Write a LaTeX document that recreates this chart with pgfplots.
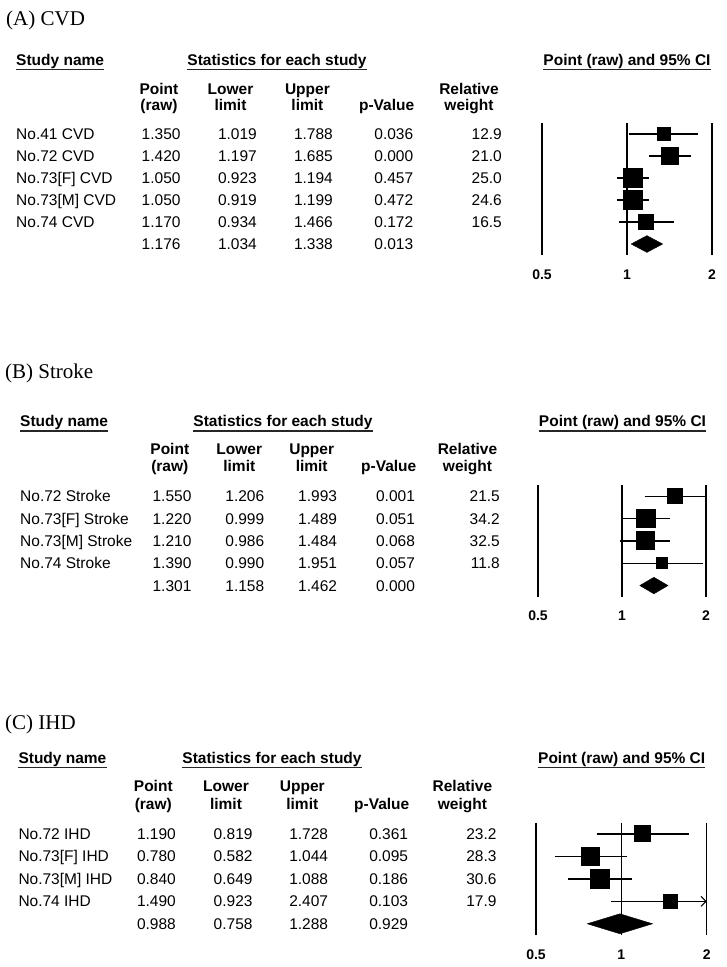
\documentclass[border=0pt]{standalone}
\usepackage{pgfplots}
\pgfplotsset{compat=1.18}
\usepackage{fontspec}
\setmainfont{Liberation Sans}
\newfontfamily\serif{Liberation Serif}
\usetikzlibrary{arrows.meta}

\tikzset{
  tx/.style={inner sep=0pt, font=\fontsize{15.5}{18}\selectfont},
  hd/.style={inner sep=0pt, font=\fontsize{15.5}{18}\selectfont\bfseries},
  ttl/.style={inner sep=0pt, anchor=base west, font=\serif\fontsize{21}{24}\selectfont},
}

% underlined bold heading
\newcommand\ul[4][base]{%
  \node[hd, anchor=#1] (u) at (#2,-#3) {#4};
  \draw[line width=1.3pt, black!85] ([yshift=-4.5pt]u.base west) -- ([yshift=-4.5pt]u.base east);}
% two-line column heading
\newcommand\hdr[5]{%
  \node[hd, anchor=base] at (#1,-#2) {#4};
  \node[hd, anchor=base] at (#1,-#3) {#5};}
% column positions: name (left), point, lower, upper, p, weight (right edges)
\newcommand\setcols[6]{\def\cN{#1}\def\cP{#2}\def\cL{#3}\def\cU{#4}\def\cV{#5}\def\cW{#6}}
\newcommand\trow[7]{%
  \node[tx, anchor=base west] at (\cN,-#1) {#2};
  \node[tx, anchor=base east] at (\cP,-#1) {#3};
  \node[tx, anchor=base east] at (\cL,-#1) {#4};
  \node[tx, anchor=base east] at (\cU,-#1) {#5};
  \node[tx, anchor=base east] at (\cV,-#1) {#6};
  \node[tx, anchor=base east] at (\cW,-#1) {#7};}
% one study in the forest plot: row, point, lower, upper, half side of the box (from its weight)
\newcommand\frow[5]{%
  \addplot[black, line width=1.3pt] coordinates {(#3,#1) (#4,#1)};
  \addplot[only marks, mark=square*, mark size=#5pt,
    mark options={fill=black, draw=black, line width=0pt}] coordinates {(#2,#1)};}
% pooled estimate: row, point, lower, upper, half height
\newcommand\pooled[5]{%
  \addplot[fill=black, draw=black] coordinates
    {(#3,#1) (#2,#1-#5) (#4,#1) (#2,#1+#5) (#3,#1)};}

\begin{document}
\begin{tikzpicture}[x=1pt, y=1pt]
\path[use as bounding box] (0,0) rectangle (726,-967);

% ---------------- (A) CVD ----------------
\node[ttl] at (6,-25) {(A) CVD};
\ul[base west]{16}{65}{Study name}
\ul{277}{65}{Statistics for each study}
\ul{627}{65}{Point (raw) and 95\% CI}
\hdr{159}{94}{110.5}{Point}{(raw)}
\hdr{230.5}{94}{110.5}{Lower}{limit}
\hdr{307.4}{94}{110.5}{Upper}{limit}
\hdr{386.6}{94}{110.5}{}{p-Value}
\hdr{469}{94}{110.5}{Relative}{weight}
\setcols{16}{180.7}{257}{333}{413.4}{502}
\trow{139.5}{No.41 CVD}{1.350}{1.019}{1.788}{0.036}{12.9}
\trow{161.5}{No.72 CVD}{1.420}{1.197}{1.685}{0.000}{21.0}
\trow{183.5}{No.73[F] CVD}{1.050}{0.923}{1.194}{0.457}{25.0}
\trow{205.5}{No.73[M] CVD}{1.050}{0.919}{1.199}{0.472}{24.6}
\trow{227.5}{No.74 CVD}{1.170}{0.934}{1.466}{0.172}{16.5}
\trow{249.5}{}{1.176}{1.034}{1.338}{0.013}{}

\begin{axis}[scale only axis, width=170pt, height=132pt,
  at={(542pt,-255pt)}, anchor=south west,
  xmode=log, xmin=0.5, xmax=2, ymin=0.5, ymax=6.5, y dir=reverse,
  axis line style={draw=none}, major tick length=0pt, ytick=\empty,
  xtick={0.5,1,2}, xticklabels={\textbf{0.5},\textbf{1},\textbf{2}},
  xticklabel style={font=\fontsize{14}{16}\selectfont, anchor=base, inner sep=0pt, yshift=-24pt},
  clip=false]
\addplot[black, line width=2pt] coordinates {(0.5,0.5) (0.5,6.5)};
\addplot[black, line width=2pt] coordinates {(2,0.5) (2,6.5)};
\addplot[black, line width=1.1pt] coordinates {(1,0.5) (1,6.5)};
\frow{1}{1.350}{1.019}{1.788}{6.64}
\frow{2}{1.420}{1.197}{1.685}{8.48}
\frow{3}{1.050}{0.923}{1.194}{9.25}
\frow{4}{1.050}{0.919}{1.199}{9.18}
\frow{5}{1.170}{0.934}{1.466}{7.51}
\pooled{6}{1.176}{1.034}{1.338}{0.38}
\end{axis}

% ---------------- (B) Stroke ----------------
\node[ttl] at (5,-378) {(B) Stroke};
\ul[base west]{20}{426.5}{Study name}
\ul{283}{426.5}{Statistics for each study}
\ul{622.5}{426.5}{Point (raw) and 95\% CI}
\hdr{169.8}{454}{471.5}{Point}{(raw)}
\hdr{239.3}{454}{471.5}{Lower}{limit}
\hdr{311.7}{454}{471.5}{Upper}{limit}
\hdr{388.7}{454}{471.5}{}{p-Value}
\hdr{467.5}{454}{471.5}{Relative}{weight}
\setcols{20}{191.6}{264.4}{337.2}{415.1}{500}
\trow{501.7}{No.72 Stroke}{1.550}{1.206}{1.993}{0.001}{21.5}
\trow{524}{No.73[F] Stroke}{1.220}{0.999}{1.489}{0.051}{34.2}
\trow{546.3}{No.73[M] Stroke}{1.210}{0.986}{1.484}{0.068}{32.5}
\trow{568.7}{No.74 Stroke}{1.390}{0.990}{1.951}{0.057}{11.8}
\trow{591}{}{1.301}{1.158}{1.462}{0.000}{}

\begin{axis}[scale only axis, width=168pt, height=111.7pt,
  at={(538pt,-596.7pt)}, anchor=south west,
  xmode=log, xmin=0.5, xmax=2, ymin=0.5, ymax=5.5, y dir=reverse,
  axis line style={draw=none}, major tick length=0pt, ytick=\empty,
  xtick={0.5,1,2}, xticklabels={\textbf{0.5},\textbf{1},\textbf{2}},
  xticklabel style={font=\fontsize{14}{16}\selectfont, anchor=base, inner sep=0pt, yshift=-24pt},
  clip=false]
\addplot[black, line width=1.3pt] coordinates {(0.5,0.5) (0.5,5.5)};
\addplot[black, line width=1.3pt] coordinates {(2,0.5) (2,5.5)};
\addplot[black, line width=1.6pt] coordinates {(1,0.5) (1,5.5)};
\frow{1}{1.550}{1.206}{1.993}{7.33}
\frow{2}{1.220}{0.999}{1.489}{9.25}
\frow{3}{1.210}{0.986}{1.484}{9.02}
\frow{4}{1.390}{0.990}{1.951}{5.43}
\pooled{5}{1.301}{1.158}{1.462}{0.37}
\end{axis}

% ---------------- (C) IHD ----------------
\node[ttl] at (5,-729) {(C) IHD};
\ul[base west]{18.3}{763.3}{Study name}
\ul{272}{763.3}{Statistics for each study}
\ul{621.7}{763.3}{Point (raw) and 95\% CI}
\hdr{153.3}{791.7}{809.3}{Point}{(raw)}
\hdr{226}{791.7}{809.3}{Lower}{limit}
\hdr{302.3}{791.7}{809.3}{Upper}{limit}
\hdr{381.7}{791.7}{809.3}{}{p-Value}
\hdr{462.4}{791.7}{809.3}{Relative}{weight}
\setcols{18.3}{176}{252.7}{328.3}{408.3}{496.7}
\trow{839.4}{No.72 IHD}{1.190}{0.819}{1.728}{0.361}{23.2}
\trow{861.9}{No.73[F] IHD}{0.780}{0.582}{1.044}{0.095}{28.3}
\trow{884.3}{No.73[M] IHD}{0.840}{0.649}{1.088}{0.186}{30.6}
\trow{906.8}{No.74 IHD}{1.490}{0.923}{2.407}{0.103}{17.9}
\trow{929.3}{}{0.988}{0.758}{1.288}{0.929}{}

\begin{axis}[scale only axis, width=170.7pt, height=112.3pt,
  at={(536pt,-935pt)}, anchor=south west,
  xmode=log, xmin=0.5, xmax=2, ymin=0.5, ymax=5.5, y dir=reverse,
  axis line style={draw=none}, major tick length=0pt, ytick=\empty,
  xtick={0.5,1,2}, xticklabels={\textbf{0.5},\textbf{1},\textbf{2}},
  xticklabel style={font=\fontsize{14}{16}\selectfont, anchor=base, inner sep=0pt, yshift=-24pt},
  clip=false]
\addplot[black, line width=1.3pt] coordinates {(0.5,0.5) (0.5,5.5)};
\addplot[black, line width=1.3pt] coordinates {(2,0.5) (2,5.5)};
\addplot[black, line width=1.6pt] coordinates {(1,0.5) (1,5.5)};
\frow{1}{1.190}{0.819}{1.728}{8.05}
\frow{2}{0.780}{0.582}{1.044}{8.90}
\frow{3}{0.840}{0.649}{1.088}{9.25}
% upper limit 2.407 lies beyond the scale: the line stops at 2 with an arrow
\addplot[black, line width=1pt, -{Straight Barb[length=5pt, width=10pt]}]
  coordinates {(1.8,4) (2,4)};
\frow{4}{1.490}{0.923}{2}{7.07}
\pooled{5}{0.988}{0.758}{1.288}{0.445}
\end{axis}
\end{tikzpicture}
\end{document}
